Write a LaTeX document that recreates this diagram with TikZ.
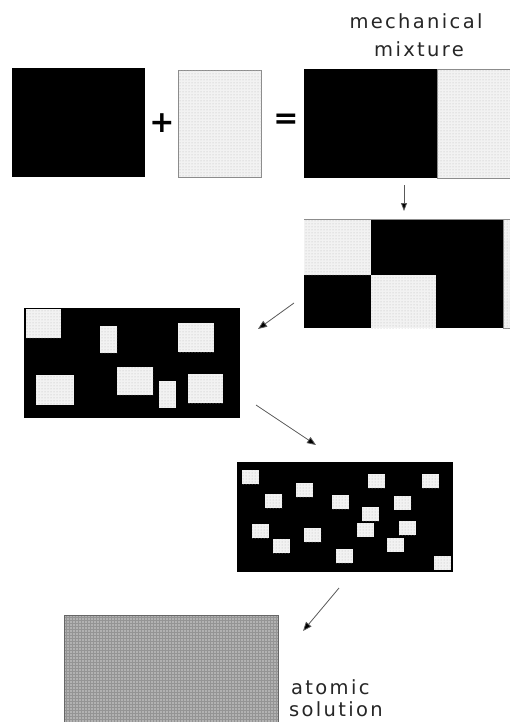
\documentclass[tikz,border=0pt]{standalone}
\usepackage{fontspec}
\newfontfamily\lblfont[LetterSpace=12]{DejaVu Sans}
\newfontfamily\symfont{DejaVu Sans}
\usetikzlibrary{arrows.meta,patterns}
\begin{document}
\begin{tikzpicture}[x=1pt,y=-1pt,
  blk/.style={fill=black},
  dotbox/.style={fill=black!5, postaction={pattern=dots, pattern color=black!28}, draw=black!45, line width=0.7pt},
  dotin/.style={fill=black!5, postaction={pattern=dots, pattern color=black!28}},
  flow/.style={draw=black!65, line width=0.8pt, -{Triangle[length=9pt,width=7pt,fill=black]}},
  lbl/.style={font=\lblfont\fontsize{19.5}{25}\selectfont, text=black!85, inner sep=0pt},
  sym/.style={font=\symfont\bfseries\fontsize{30}{30}\selectfont, inner sep=0pt}
]
\useasboundingbox (0,0) rectangle (510,722);
\clip (0,0) rectangle (510,722);
\fill[white] (0,0) rectangle (510,722);

% row 1
\fill[blk] (12,68) rectangle (145,177);
\draw[dotbox] (178,70) rectangle (261,177);
\node[sym] (plus) at (162,123) {+};
\node[sym] (eq) at (286,121) {=};
\fill[blk] (304,69) rectangle (437,178);
\draw[dotbox] (437,69) rectangle (520,178);
\node[lbl, anchor=base] (mech1) at (416,29) {mechanical};
\node[lbl, anchor=base] (mech2) at (419,57) {mixture};

% down arrow
\coordinate (d1) at (404,185);
\coordinate (d2) at (404,211);
\draw[draw=black!65, line width=0.8pt, -{Triangle[length=8pt,width=6pt,fill=black]}] (d1) -- (d2);

% row 2
\fill[blk] (304,219) rectangle (503,328);
\fill[dotin] (304,219) rectangle (371,275);
\fill[dotin] (371,275) rectangle (436,328);
\draw[dotbox] (503,219) rectangle (520,328);
\draw[black!45, line width=0.7pt] (304,219) -- (503,219);

% arrow 2
\coordinate (a1) at (294,303);
\coordinate (a2) at (258,329);
\draw[flow] (a1) -- (a2);

% row 3
\fill[blk] (24,308) rectangle (240,418);
\foreach \xa/\ya/\xb/\yb in {26/309/61/338, 100/326/117/353, 178/323/214/352, 36/375/74/405, 117/367/153/395, 159/381/176/408, 188/374/223/403}
  \fill[dotin] (\xa,\ya) rectangle (\xb,\yb);

% arrow 3
\coordinate (b1) at (256,405);
\coordinate (b2) at (316,445);
\draw[flow] (b1) -- (b2);

% row 4
\fill[blk] (237,462) rectangle (453,572);
\foreach \xa/\ya in {242/470, 296/483, 265/494, 368/474, 422/474, 332/495, 394/496, 362/507, 252/524, 357/523, 399/521, 304/528, 273/539, 387/538, 336/549, 434/556}
  \fill[dotin] (\xa,\ya) rectangle ++(17,14);

% arrow 4
\coordinate (c1) at (339,588);
\coordinate (c2) at (303,631);
\draw[flow] (c1) -- (c2);

% atomic solution
\fill[black!30] (64,615) rectangle (278,730);
\fill[pattern=grid, pattern color=black!42] (64,615) rectangle (278,730);
\draw[black!60, line width=0.8pt] (64,730) -- (64,615) -- (278,615) -- (278,730);
\node[lbl, anchor=base west] (atom1) at (291,694) {atomic};
\node[lbl, anchor=base west] (atom2) at (289,716) {solution};
\end{tikzpicture}
\end{document}
